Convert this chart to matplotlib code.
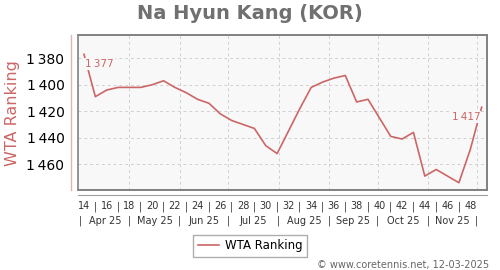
import matplotlib
matplotlib.use('Agg')
import matplotlib.pyplot as plt
import matplotlib.transforms as mtransforms
from matplotlib.patches import Rectangle

# data (ISO week of 2025 -> WTA ranking)
weeks = list(range(14, 50))
ranking = [1377, 1409, 1404, 1402, 1402, 1402, 1400, 1397, 1402, 1406,
           1411, 1414, 1422, 1427, 1430, 1433, 1446, 1452, 1435, 1418,
           1402, 1398, 1395, 1393, 1413, 1411, 1425, 1439, 1441, 1436,
           1469, 1464, 1469, 1474, 1449, 1417]
month_labels = ['Apr 25', 'May 25', 'Jun 25', 'Jul 25', 'Aug 25', 'Sep 25', 'Oct 25', 'Nov 25']
# month boundaries in week units (Apr 1 ... Dec 1)
month_edges = [13.71, 18.0, 22.43, 26.71, 31.14, 35.57, 39.86, 44.29, 48.57]
yticks = [1380, 1400, 1420, 1440, 1460]

red = '#cc6666'
gray_text = '#707070'

fig = plt.figure(figsize=(5, 2.7), dpi=100)
ax = fig.add_axes([0.1566, 0.2963, 0.818, 0.5727])
ax.set_facecolor('#f8f8f8')

ax.plot(weeks, ranking, color=red, lw=1.2, zorder=3, solid_joinstyle='round')
ax.set_xlim(13.5, 49.5)
ax.set_ylim(1479.5, 1362.7)

# grid
ax.set_yticks(yticks)
ax.set_yticklabels([f'{v // 1000}\u2009{v % 1000:03d}' for v in yticks],
                   color=red, fontsize=8.5)
for v in yticks:
    ax.axhline(v, color='#d0d0d0', lw=0.7, ls=(0, (3, 3)), zorder=1)
for e in month_edges[1:]:
    ax.axvline(e, color='#d0d0d0', lw=0.7, ls=(0, (3, 3)), zorder=1)

# week labels with separators
ax.set_xticks(weeks[:-1])
ax.set_xticklabels([str(w) if w % 2 == 0 else '|' for w in weeks[:-1]],
                   fontsize=7, color='#333333')
ax.tick_params(axis='x', length=0, pad=8)
ax.tick_params(axis='y', length=0, pad=5)

# month row
trans = mtransforms.blended_transform_factory(ax.transData, ax.transAxes)
for lab, a, b in zip(month_labels, month_edges[:-1], month_edges[1:]):
    ax.text((a + b) / 2, -0.2, lab, transform=trans, ha='center', va='center',
            fontsize=7, color='#333333')
for e in month_edges:
    ax.text(e, -0.2, '|', transform=trans, ha='center', va='center',
            fontsize=7, color='#333333')

# thin axis line under the frame
ax.plot([0, 1], [-0.032, -0.032], transform=ax.transAxes, color='#a0a0a0',
        lw=0.8, clip_on=False)

# frame and offset left axis
for s in ['top', 'right', 'bottom']:
    ax.spines[s].set_color('#808080')
    ax.spines[s].set_linewidth(1.2)
ax.spines['left'].set_position(('outward', 5))
ax.spines['left'].set_color('#e0b4b4')
ax.spines['left'].set_linewidth(1.0)
ax.add_patch(Rectangle((0, 0), 1, 1, transform=ax.transAxes, fill=False,
                       edgecolor='#808080', lw=1.2, zorder=4, clip_on=False))

# point labels
bbox = dict(boxstyle='square,pad=0.1', fc='#f8f8f8', ec='none')
ax.annotate(f'1\u2009{ranking[0] % 1000:03d}', (weeks[0], ranking[0]),
            xytext=(1, -7), textcoords='offset points', ha='left', va='center',
            fontsize=7.5, color=red, bbox=bbox, zorder=5)
ax.annotate(f'1\u2009{ranking[-1] % 1000:03d}', (weeks[-1], ranking[-1]),
            xytext=(-1, -7), textcoords='offset points', ha='right', va='center',
            fontsize=7.5, color=red, bbox=bbox, zorder=5)

ax.set_ylabel('WTA Ranking', color=red, fontsize=11.5)
ax.yaxis.set_label_coords(-0.1425, 0.5)

fig.suptitle('Na Hyun Kang (KOR)', x=0.5, y=0.985, fontsize=14,
             fontweight='bold', color=gray_text)

leg = fig.legend(handles=ax.lines[:1], labels=['WTA Ranking'], loc='center',
                 bbox_to_anchor=(0.5, 1 - 246 / 270), fontsize=8.5,
                 frameon=True, fancybox=False, edgecolor='#999999',
                 handlelength=1.8, borderpad=0.4, handletextpad=0.5)

fig.text(0.978, 1 - 265 / 270, '\u00a9 www.coretennis.net, 12-03-2025',
         ha='right', va='center', fontsize=7, color='#666666')

fig.savefig('out.png', dpi=100)
